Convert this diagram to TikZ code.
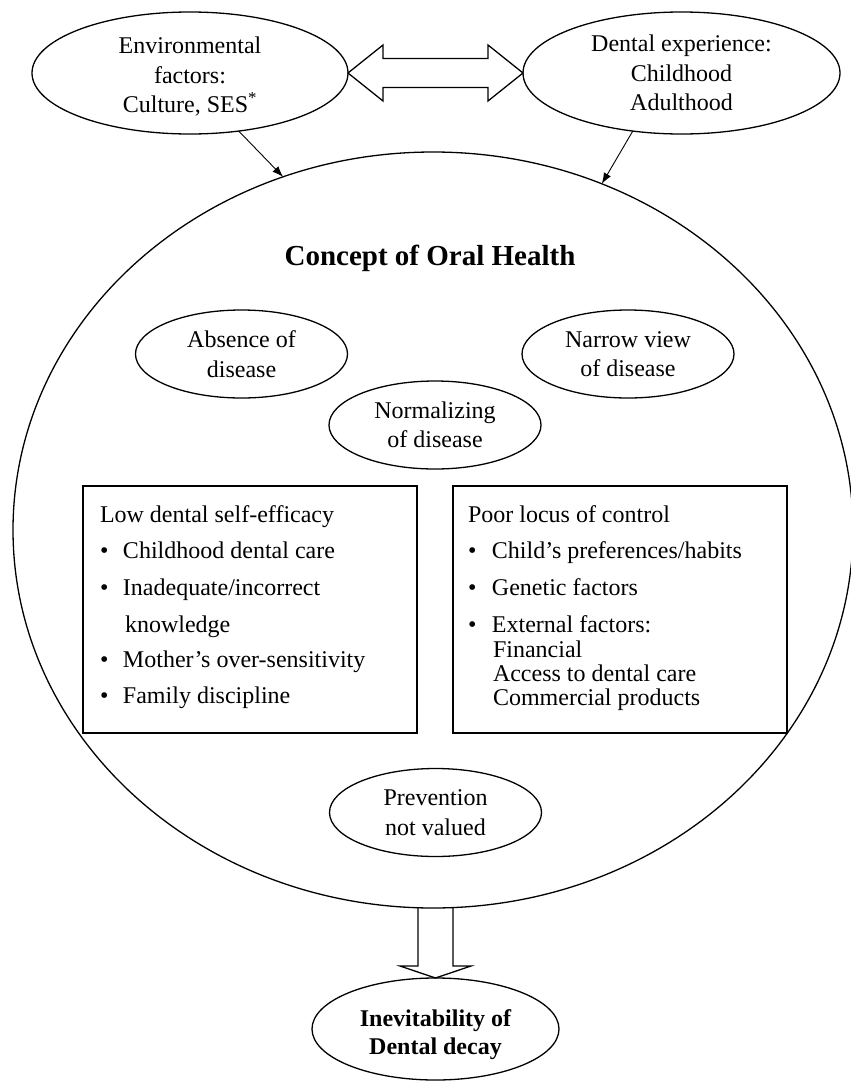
\documentclass[tikz,border=0pt]{standalone}
\usepackage{fontspec}
\setmainfont{Liberation Serif}
\usetikzlibrary{shapes.geometric,arrows.meta,calc}
\newcommand{\mybulL}{\makebox[23pt][l]{\textbullet}}
\newcommand{\mybulR}{\makebox[24pt][l]{\textbullet}}
\begin{document}
\begin{tikzpicture}[x=1pt,y=-1pt,
  every node/.style={inner sep=0pt, outer sep=0pt, font=\fontsize{24}{29.5}\selectfont},
  oval/.style={draw, ellipse, line width=1.3pt, align=center},
  smalloval/.style={oval, minimum width=212pt, minimum height=88pt},
  boxr/.style={draw, rectangle, line width=1.3pt, minimum width=334pt, minimum height=247pt},
  ln/.style={anchor=base west},
  link/.style={line width=0.9pt, -{Latex[length=11pt,width=8pt]}},
  fat/.style={line width=1.3pt, line join=miter},
]
\useasboundingbox (0,0) rectangle (851,1082);
\fill[white] (0,0) rectangle (851,1082);

% top ellipses
\node[oval, minimum width=316pt, minimum height=122pt] (env) at (190,73) {};
\node[align=center] (envtext) at (190,77) {Environmental\\factors:\\Culture, SES\textsuperscript{*}};
\node[oval, minimum width=317pt, minimum height=122pt] (dent) at (681.5,73) {Dental experience:\\Childhood\\Adulthood};

% big ellipse
\node[draw, ellipse, line width=1.3pt, minimum width=840pt, minimum height=756pt] (big) at (433,530) {};

% double arrow
\draw[fat] (env.east) -- ++(35,-28) -- ++(0,13.5) -- ($(dent.west)+(-35,-14.5)$) -- ++(0,-13.5)
  -- (dent.west) -- ++(-35,28) -- ++(0,-13.5) -- ($(env.east)+(35,14.5)$) -- ++(0,13.5) -- cycle;

% links
\draw[link] (env.-50) -- (big.113.9);
\draw[link] (dent.-130) -- (big.64.8);

% title
\node[font=\bfseries\fontsize{29}{34}\selectfont, anchor=base] (title) at (430,265) {Concept of Oral Health};

% inner ellipses
\node[smalloval] (absence) at (241.5,354) {Absence of\\disease};
\node[smalloval] (narrow) at (628,354) {Narrow view\\of disease};
\node[smalloval] (normal) at (435,425) {Normalizing\\of disease};
\node[smalloval] (prev) at (435.5,812.5) {Prevention\\not valued};

% boxes
\node[boxr] (lowbox) at (250,609.5) {};
\node[boxr] (poorbox) at (620,609.5) {};

\node[ln] (l0) at (100,522) {Low dental self-efficacy};
\node[ln] (l1) at (100,558) {\mybulL Childhood dental care};
\node[ln] (l2) at (100,595) {\mybulL Inadequate/incorrect};
\node[ln] (l3) at (125,632) {knowledge};
\node[ln] (l4) at (100,667) {\mybulL Mother’s over-sensitivity};
\node[ln] (l5) at (100,703) {\mybulL Family discipline};

\node[ln] (r0) at (468,522) {Poor locus of control};
\node[ln] (r1) at (468,558) {\mybulR Child’s preferences/habits};
\node[ln] (r2) at (468,595) {\mybulR Genetic factors};
\node[ln] (r3) at (468,632) {\mybulR External factors:};
\node[ln] (r4) at (493,657) {Financial};
\node[ln] (r5) at (493,681) {Access to dental care};
\node[ln] (r6) at (493,705) {Commercial products};

% bottom ellipse
\node[oval, minimum width=247pt, minimum height=102pt] (inev) at (435.5,1029) {};
\node[align=center, font=\bfseries\fontsize{24}{28}\selectfont] (inevtext) at (435.5,1035) {Inevitability of\\Dental decay};

% down arrow
\coordinate (dn) at (inev.north |- big.south);
\draw[fat] ($(dn)+(-17.5,0)$) -- ++(0,58) -- ++(-18,0) -- (inev.north) -- ($(dn)+(35.5,58)$) -- ++(-18,0) -- ++(0,-58);
\end{tikzpicture}
\end{document}
